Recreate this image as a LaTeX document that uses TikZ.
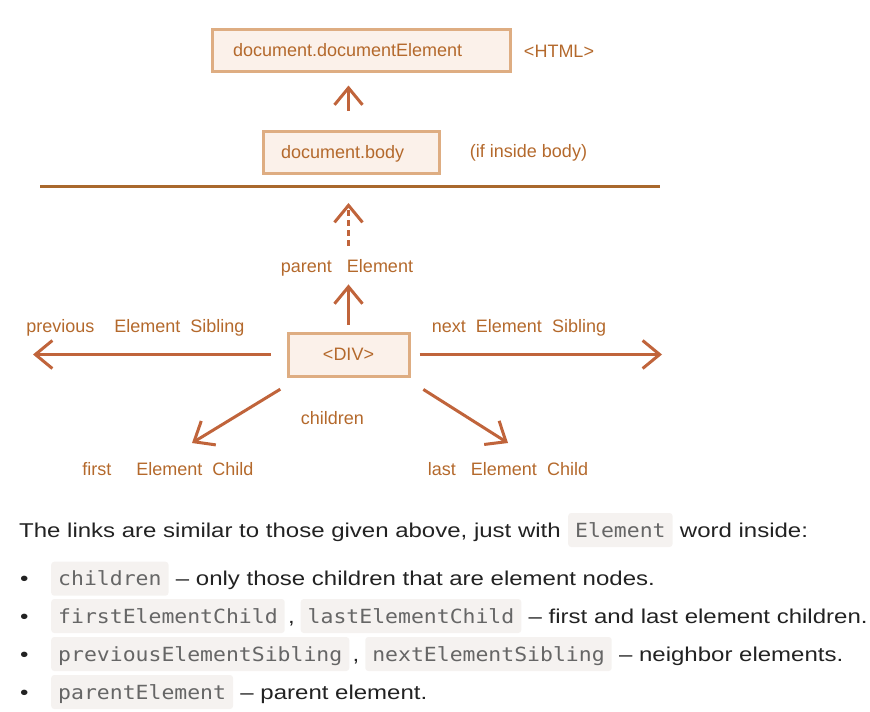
\documentclass[tikz,border=0pt]{standalone}
\usepackage{fontspec}
\setmainfont{Liberation Sans}
\newfontfamily\codefont[FakeStretch=1.1]{DejaVu Sans Mono}
\newfontfamily\bodyfont[FakeStretch=1.2]{Liberation Sans}
\usetikzlibrary{positioning,arrows.meta}

\definecolor{boxfill}{HTML}{FBF1EA}
\definecolor{boxline}{HTML}{DEAD82}
\definecolor{labtext}{HTML}{B4692C}
\definecolor{arrline}{HTML}{C0643B}
\definecolor{sepcol}{HTML}{A9682D}
\definecolor{codefill}{HTML}{F5F2F0}
\definecolor{codetext}{HTML}{666666}
\definecolor{bodytext}{HTML}{222222}

\newcommand{\labfont}{\fontsize{18}{20}\selectfont}

\begin{document}
\begin{tikzpicture}[x=1pt,y=1pt,yscale=-1,xscale=1,
  domnode/.style={draw=boxline,line width=3pt,fill=boxfill,text=labtext,font=\labfont,
    text height=12.9pt,text depth=0pt,minimum height=42pt,inner ysep=0pt},
  lab/.style={text=labtext,font=\labfont,inner sep=0pt,text height=12.9pt,text depth=0pt},
  arr/.style={draw=arrline,line width=3pt,-{Straight Barb[length=17pt,width=28pt,line width=3pt]}},
  body/.style={text=bodytext,font=\bodyfont\fontsize{20}{24}\selectfont,inner sep=0pt,
    text height=14.3pt,text depth=0pt},
  code/.style={fill=codefill,rounded corners=3pt,text=codetext,
    font=\codefont\fontsize{19.5}{24}\selectfont,inner xsep=7pt,inner ysep=9.85pt,
    text height=14.3pt,text depth=0pt}]
\useasboundingbox (0,0) rectangle (870,712);

% Boxes
\node (delem) [domnode,text width=256pt,inner xsep=21pt,align=left] at (361,50) {document.documentElement};
\node (dbody) [domnode,text width=140pt,inner xsep=18pt,align=left] at (351,152) {document.body};
\node (div) [domnode,minimum width=121pt,minimum height=43pt] at (348.5,354.5) {<DIV>};

% Text Node
\node (html) [lab] at (559,51) {<HTML>};
\node (inbody) [lab] at (528.5,151) {(if inside body)};
\node (par) [lab] at (347,266) {parent~~~Element};
\node (prev) [lab] at (135.5,326) {previous~~~~Element~~Sibling};
\node (next) [lab] at (519,326) {next~~Element~~Sibling};
\node (chl) [lab] at (332.5,418) {children};
\node (fch) [lab] at (168,469) {first~~~~~Element~~Child};
\node (lch) [lab] at (508,469) {last~~~Element~~Child};

% Separator
\coordinate (sepL) at (40,186);
\coordinate (sepR) at (660,186);
\draw [sepcol,line width=3pt] (sepL) -- (sepR);

% Arrows
\coordinate (lftEnd) at (33,354.5);
\coordinate (rgtEnd) at (662,354.5);
\coordinate (fchEnd) at (192,443);
\coordinate (lchEnd) at (508,443);
\draw [arr,shorten <=19pt,shorten >=13pt] (dbody.north -| div.north) -- (delem.south -| div.north);
\draw [arr,dash pattern=on 6pt off 4pt,shorten <=13.75pt,shorten >=17pt] (div.north |- par.north) -- (div.north |- sepL);
\draw [arr,shorten <=7pt,shorten >=11.75pt] (div.north) -- (div.north |- par.south);
\draw [arr,shorten <=16pt] (div.west) -- (lftEnd);
\draw [arr,shorten <=9pt] (div.east) -- (rgtEnd);
\draw [arr,shorten <=22.5pt] ([xshift=13pt]div.south west) -- (fchEnd);
\draw [arr,shorten <=22.3pt] ([xshift=-6pt]div.south east) -- (lchEnd);

% Explanation text
\node (lnk) [body,anchor=west] at (19,530) {The links are similar to those given above, just with};
\node (elw) [code,right=7pt of lnk] {Element};
\node (wdi) [body,right=7pt of elw] {word inside:};

\node (b1) [body,anchor=west] at (20,578.7) {•};
\node (c1) [code,anchor=west] at (51,578.7) {children};
\node (t1) [body,right=7pt of c1] {– only those children that are element nodes.};

\node (b2) [body,anchor=west] at (20,616) {•};
\node (c2) [code,anchor=west] at (51,616) {firstElementChild};
\node (m2) [body,right=3pt of c2] {,};
\node (c3) [code,right=5.5pt of m2] {lastElementChild};
\node (t2) [body,right=7pt of c3] {– first and last element children.};

\node (b3) [body,anchor=west] at (20,654) {•};
\node (c4) [code,anchor=west] at (51,654) {previousElementSibling};
\node (m3) [body,right=3pt of c4] {,};
\node (c5) [code,right=5.5pt of m3] {nextElementSibling};
\node (t3) [body,right=7pt of c5] {– neighbor elements.};

\node (b4) [body,anchor=west] at (20,692) {•};
\node (c6) [code,anchor=west] at (51,692) {parentElement};
\node (t4) [body,right=7pt of c6] {– parent element.};

\end{tikzpicture}
\end{document}
